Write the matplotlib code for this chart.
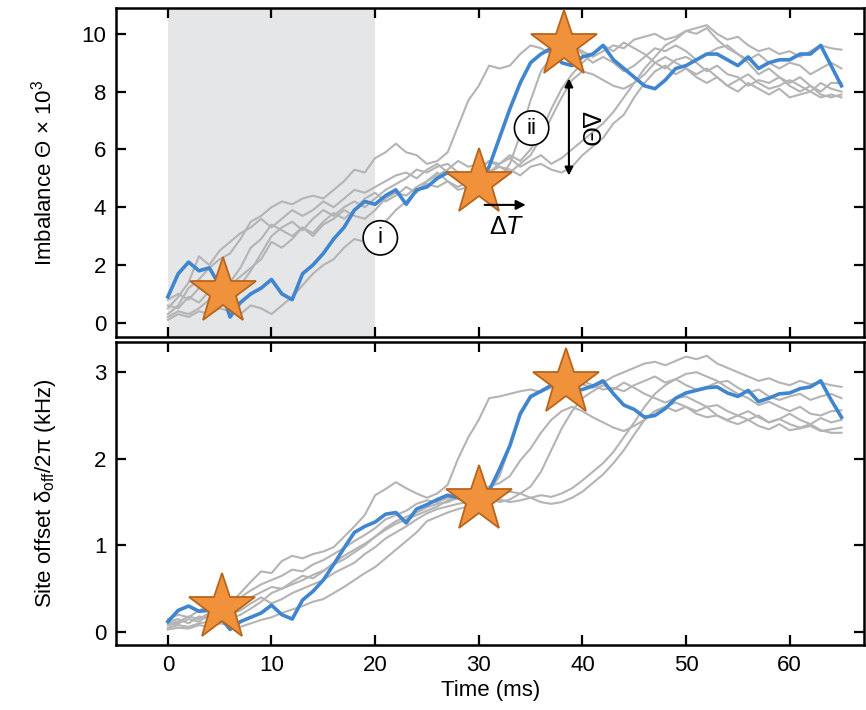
import numpy as np
import matplotlib
matplotlib.use("Agg")
import matplotlib.pyplot as plt

plt.rcParams['font.family'] = ['Liberation Sans', 'DejaVu Sans']
plt.rcParams['mathtext.fontset'] = 'custom'
plt.rcParams['mathtext.rm'] = 'Liberation Sans'
plt.rcParams['mathtext.it'] = 'Liberation Sans:italic'

# time axis (ms), one sample per ms
time_ms = np.arange(0, 66)

# imbalance traces (x 10^3), top panel
blue_theta = [0.9, 1.7, 2.1, 1.8, 1.9, 1.3, 0.2, 0.7, 1.0, 1.2,
              1.5, 1.0, 0.8, 1.7, 2.0, 2.4, 2.9, 3.3, 3.9, 4.2,
              4.1, 4.4, 4.6, 4.1, 4.6, 4.7, 5.0, 5.2, 5.0, 4.9,
              4.9, 5.4, 6.4, 7.4, 8.3, 9.0, 9.3, 9.5, 9.0, 8.9,
              9.2, 9.3, 9.6, 9.1, 8.8, 8.5, 8.2, 8.1, 8.4, 8.8,
              8.9, 9.1, 9.3, 9.3, 9.1, 8.9, 9.2, 8.8, 9.0, 9.1,
              9.1, 9.3, 9.3, 9.6, 8.9, 8.2]
gray1_theta = [0.3, 0.6, 1.2, 1.5, 1.9, 2.2, 2.4, 2.9, 3.5, 3.7,
               4.0, 4.2, 4.1, 4.3, 4.4, 4.3, 4.6, 4.9, 5.3, 5.2,
               5.7, 5.9, 6.2, 5.9, 5.8, 5.5, 5.6, 5.9, 6.8, 7.7,
               8.2, 8.9, 8.8, 8.9, 9.3, 9.6, 9.5, 9.3, 9.4, 9.6,
               9.4, 9.2, 9.4, 9.6, 9.5, 9.8, 9.9, 10.0, 9.8, 9.9,
               10.1, 10.2, 10.3, 10.0, 9.8, 9.9, 9.6, 9.4, 9.5, 9.3,
               9.4, 9.2, 9.4, 9.6, 9.5, 9.45]
gray2_theta = [0.5, 0.9, 1.4, 2.3, 2.0, 2.5, 2.8, 3.1, 3.3, 3.6,
               3.3, 3.6, 3.9, 3.7, 3.9, 4.2, 4.0, 4.3, 4.6, 4.5,
               4.7, 4.9, 5.1, 5.2, 5.0, 5.3, 5.5, 5.2, 5.0, 4.8,
               5.1, 5.3, 5.0, 5.5, 6.5, 7.7, 8.7, 9.2, 9.6, 9.7,
               9.3, 9.0, 9.2, 9.0, 8.7, 8.9, 9.2, 9.5, 9.4, 9.6,
               9.4, 9.1, 9.3, 9.5, 9.6, 9.3, 9.1, 9.3, 9.0, 8.8,
               9.0, 8.9, 8.6, 8.8, 9.0, 8.8]
gray3_theta = [0.2, 0.4, 0.3, 0.5, 0.8, 0.6, 0.9, 1.3, 1.8, 2.4,
               3.0, 3.3, 3.5, 3.2, 3.6, 3.9, 3.7, 4.0, 4.2, 4.0,
               4.3, 4.6, 4.8, 5.0, 5.3, 5.2, 5.4, 5.5, 5.2, 5.0,
               5.3, 5.6, 5.4, 5.2, 5.5, 5.8, 6.4, 7.1, 7.8, 8.4,
               8.7, 8.6, 8.4, 8.2, 8.1, 8.3, 8.6, 9.0, 9.2, 9.0,
               8.8, 8.6, 8.8, 8.5, 8.2, 8.4, 8.6, 8.3, 8.1, 8.2,
               8.4, 8.2, 8.0, 8.3, 8.1, 8.0]
gray4_theta = [0.8, 1.0, 0.8, 1.2, 1.0, 0.9, 1.4, 1.9, 2.6, 2.9,
               3.4, 3.2, 3.0, 3.3, 3.0, 3.4, 3.6, 3.9, 3.7, 3.6,
               3.9, 4.3, 4.5, 4.4, 4.7, 4.9, 5.2, 4.9, 4.7, 4.9,
               5.3, 5.6, 5.5, 5.7, 5.4, 5.6, 5.8, 5.5, 5.7, 6.0,
               6.3, 6.6, 6.9, 7.3, 7.8, 8.3, 8.8, 9.2, 9.6, 9.8,
               10.1, 10.0, 10.2, 9.8, 9.5, 9.3, 9.0, 8.6, 8.8, 8.5,
               8.3, 8.5, 8.2, 8.0, 8.3, 8.3]
gray5_theta = [0.1, 0.3, 0.2, 0.4, 0.3, 0.5, 0.4, 0.3, 0.6, 0.5,
               0.3, 0.6, 0.9, 1.3, 1.7, 2.0, 2.2, 2.6, 2.9, 2.8,
               3.1, 3.5, 3.9, 4.2, 4.6, 4.8, 4.7, 4.9, 4.6, 4.7,
               4.9, 5.2, 5.4, 5.3, 5.1, 5.4, 5.5, 5.3, 5.2, 5.4,
               5.8, 6.1, 6.4, 6.9, 7.2, 7.8, 8.3, 8.7, 8.9, 8.6,
               8.8, 8.5, 8.3, 8.5, 8.2, 8.0, 8.3, 8.1, 7.9, 8.1,
               7.8, 7.9, 8.0, 7.8, 7.9, 7.8]
gray6_theta = [0.6, 0.5, 0.9, 0.7, 1.1, 1.5, 1.3, 1.6, 1.9, 2.2,
               2.8, 2.6, 2.9, 3.3, 3.1, 3.5, 3.8, 3.6, 3.9, 4.3,
               4.5, 4.2, 4.4, 4.7, 4.5, 4.9, 5.1, 5.3, 5.6, 5.4,
               5.5, 5.2, 5.5, 5.8, 5.6, 6.0, 6.6, 7.4, 8.1, 8.6,
               9.0, 9.3, 9.6, 9.4, 9.7, 9.5, 9.3, 9.0, 8.8, 9.1,
               9.2, 9.0, 8.7, 8.9, 8.6, 8.5, 8.2, 8.4, 8.3, 8.5,
               8.2, 8.0, 8.2, 7.9, 7.8, 7.9]

# site offset traces (kHz), bottom panel
blue_delta = [0.12, 0.25, 0.30, 0.24, 0.25, 0.18, 0.03, 0.12, 0.17, 0.22,
              0.31, 0.20, 0.15, 0.37, 0.47, 0.60, 0.78, 0.97, 1.15, 1.22,
              1.27, 1.36, 1.38, 1.26, 1.42, 1.47, 1.53, 1.58, 1.55, 1.50,
              1.50, 1.63, 1.88, 2.15, 2.52, 2.72, 2.78, 2.85, 2.82, 2.79,
              2.80, 2.84, 2.90, 2.75, 2.62, 2.57, 2.48, 2.50, 2.58, 2.70,
              2.76, 2.79, 2.82, 2.83, 2.76, 2.72, 2.79, 2.66, 2.70, 2.75,
              2.76, 2.81, 2.83, 2.90, 2.68, 2.48]
gray1_delta = [0.08, 0.10, 0.15, 0.12, 0.20, 0.25, 0.33, 0.45, 0.58, 0.70,
               0.68, 0.82, 0.88, 0.85, 0.90, 0.93, 0.98, 1.10, 1.22, 1.35,
               1.58, 1.65, 1.73, 1.66, 1.60, 1.55, 1.60, 1.70, 2.00, 2.25,
               2.45, 2.70, 2.72, 2.75, 2.78, 2.80, 2.77, 2.82, 2.85, 2.90,
               2.86, 2.82, 2.88, 2.95, 3.00, 3.05, 3.10, 3.12, 3.08, 3.13,
               3.18, 3.15, 3.19, 3.10, 3.05, 3.00, 2.95, 2.90, 2.93, 2.88,
               2.85, 2.90, 2.86, 2.88, 2.85, 2.83]
gray2_delta = [0.15, 0.20, 0.17, 0.25, 0.30, 0.28, 0.35, 0.40, 0.48, 0.55,
               0.60, 0.65, 0.72, 0.70, 0.78, 0.83, 0.90, 0.97, 1.05, 1.12,
               1.20, 1.30, 1.35, 1.40, 1.48, 1.52, 1.50, 1.55, 1.58, 1.62,
               1.60, 1.63, 1.80, 2.15, 2.50, 2.70, 2.78, 2.84, 2.90, 2.96,
               2.90, 2.85, 2.80, 2.82, 2.78, 2.85, 2.90, 2.95, 2.88, 2.92,
               2.85, 2.80, 2.83, 2.88, 2.90, 2.82, 2.76, 2.80, 2.72, 2.68,
               2.72, 2.75, 2.68, 2.72, 2.75, 2.70]
gray3_delta = [0.05, 0.08, 0.06, 0.10, 0.12, 0.10, 0.15, 0.20, 0.27, 0.35,
               0.45, 0.50, 0.55, 0.60, 0.66, 0.71, 0.78, 0.84, 0.92, 1.00,
               1.10, 1.20, 1.28, 1.33, 1.38, 1.44, 1.48, 1.50, 1.55, 1.60,
               1.65, 1.68, 1.72, 1.80, 1.98, 2.12, 2.30, 2.45, 2.55, 2.60,
               2.55, 2.48, 2.42, 2.36, 2.32, 2.38, 2.45, 2.55, 2.60, 2.65,
               2.60, 2.55, 2.60, 2.50, 2.45, 2.50, 2.55, 2.48, 2.42, 2.46,
               2.52, 2.45, 2.40, 2.47, 2.42, 2.45]
gray4_delta = [0.12, 0.15, 0.10, 0.18, 0.15, 0.12, 0.20, 0.25, 0.33, 0.40,
               0.33, 0.38, 0.45, 0.50, 0.55, 0.60, 0.68, 0.74, 0.80, 0.90,
               0.98, 1.08, 1.15, 1.22, 1.30, 1.37, 1.42, 1.45, 1.48, 1.50,
               1.52, 1.55, 1.50, 1.53, 1.60, 1.55, 1.58, 1.56, 1.60, 1.66,
               1.75, 1.85, 1.95, 2.08, 2.25, 2.42, 2.60, 2.75, 2.85, 2.92,
               2.98, 3.00, 2.95, 2.90, 2.82, 2.75, 2.70, 2.62, 2.66, 2.60,
               2.55, 2.60, 2.52, 2.50, 2.55, 2.56]
gray5_delta = [0.03, 0.05, 0.04, 0.08, 0.06, 0.10, 0.08, 0.06, 0.10, 0.14,
               0.17, 0.22, 0.26, 0.30, 0.35, 0.38, 0.45, 0.52, 0.60, 0.68,
               0.75, 0.85, 0.95, 1.05, 1.15, 1.28, 1.33, 1.38, 1.42, 1.45,
               1.46, 1.50, 1.53, 1.50, 1.52, 1.55, 1.50, 1.48, 1.50, 1.55,
               1.62, 1.72, 1.82, 1.95, 2.10, 2.28, 2.45, 2.55, 2.60, 2.55,
               2.60, 2.52, 2.48, 2.50, 2.44, 2.40, 2.45, 2.38, 2.34, 2.40,
               2.33, 2.35, 2.38, 2.32, 2.34, 2.36]
gray6_delta = [0.10, 0.12, 0.18, 0.15, 0.22, 0.30, 0.28, 0.35, 0.40, 0.46,
               0.52, 0.50, 0.58, 0.65, 0.62, 0.70, 0.80, 0.88, 0.95, 1.02,
               1.10, 1.18, 1.25, 1.30, 1.35, 1.40, 1.45, 1.52, 1.58, 1.55,
               1.50, 1.55, 1.58, 1.62, 1.60, 1.68, 1.85, 2.10, 2.35, 2.55,
               2.70, 2.78, 2.85, 2.80, 2.88, 2.82, 2.75, 2.70, 2.65, 2.70,
               2.72, 2.66, 2.60, 2.62, 2.55, 2.50, 2.45, 2.50, 2.42, 2.46,
               2.40, 2.36, 2.40, 2.33, 2.30, 2.30]

# star markers (time, value)
star_t_top = [5.3, 30.0, 38.2]
star_theta = [1.05, 4.85, 9.6]
star_t_bot = [5.2, 30.0, 38.4]
star_delta = [0.28, 1.52, 2.87]

gray_theta = [gray1_theta, gray2_theta, gray3_theta, gray4_theta, gray5_theta, gray6_theta]
gray_delta = [gray1_delta, gray2_delta, gray3_delta, gray4_delta, gray5_delta, gray6_delta]

blue = '#3f85cf'
gray = '#b4b4b4'
star_fill = '#f0913c'
star_edge = '#b8651d'

fig = plt.figure(figsize=(8.66, 7.10), dpi=100)
ax1 = fig.add_axes([0.134, 0.525, 0.864, 0.464])
ax2 = fig.add_axes([0.134, 0.0915, 0.864, 0.427])

#top panel: imbalance
ax1.axvspan(0, 20, color='#e5e6e8', lw=0, zorder=0)
for g in gray_theta:
    ax1.plot(time_ms, g, color=gray, lw=1.5, zorder=1)
ax1.plot(time_ms, blue_theta, color=blue, lw=2.6, zorder=3)
ax1.plot(star_t_top, star_theta, linestyle='none', marker='*', markersize=50,
         color=star_fill, markeredgecolor=star_edge, markeredgewidth=1.3, zorder=5)

#bottom panel: site offset
for g in gray_delta:
    ax2.plot(time_ms, g, color=gray, lw=1.5, zorder=1)
ax2.plot(time_ms, blue_delta, color=blue, lw=2.6, zorder=3)
ax2.plot(star_t_bot, star_delta, linestyle='none', marker='*', markersize=50,
         color=star_fill, markeredgecolor=star_edge, markeredgewidth=1.3, zorder=5)

# annotations
circ = dict(boxstyle='circle,pad=0.3', fc='white', ec='black', lw=1.2)
ax1.text(20.5, 2.94, 'i', ha='center', va='center', fontsize=16, bbox=circ, zorder=6)
ax1.text(35.1, 6.74, 'ii', ha='center', va='center', fontsize=16, bbox=circ, zorder=6)
ax1.annotate('', xy=(34.8, 4.08), xytext=(30.3, 4.08),
             arrowprops=dict(arrowstyle='-|>', lw=1.5, color='black', mutation_scale=14), zorder=6)
ax1.text(32.7, 3.3, r'$\Delta T$', ha='center', va='center', fontsize=18, zorder=6)
ax1.annotate('', xy=(38.7, 8.55), xytext=(38.7, 5.0),
             arrowprops=dict(arrowstyle='<|-|>', lw=1.5, color='black', mutation_scale=12), zorder=6)
ax1.text(40.6, 6.7, 'ΔΘ', ha='center', va='center', fontsize=18, rotation=-90, zorder=6)

for ax in (ax1, ax2):
    ax.set_xlim(-5, 67.2)
    ax.set_xticks([0, 10, 20, 30, 40, 50, 60])
    ax.tick_params(direction='in', length=7, width=1.6, top=True, right=True,
                   labelsize=16, pad=7)
    for s in ax.spines.values():
        s.set_linewidth(1.8)

ax1.set_ylim(-0.5, 10.9)
ax1.set_yticks([0, 2, 4, 6, 8, 10])
ax1.tick_params(labelbottom=False)
ax1.set_ylabel(r'Imbalance Θ × 10$^3$', fontsize=16, labelpad=18)

ax2.set_ylim(-0.15, 3.35)
ax2.set_yticks([0, 1, 2, 3])
ax2.set_ylabel(r'Site offset δ$_{\rm off}$/2π (kHz)', fontsize=16, labelpad=26)
ax2.set_xlabel('Time (ms)', fontsize=16, labelpad=3)

fig.align_ylabels([ax1, ax2])
fig.savefig('out.png', dpi=100)
